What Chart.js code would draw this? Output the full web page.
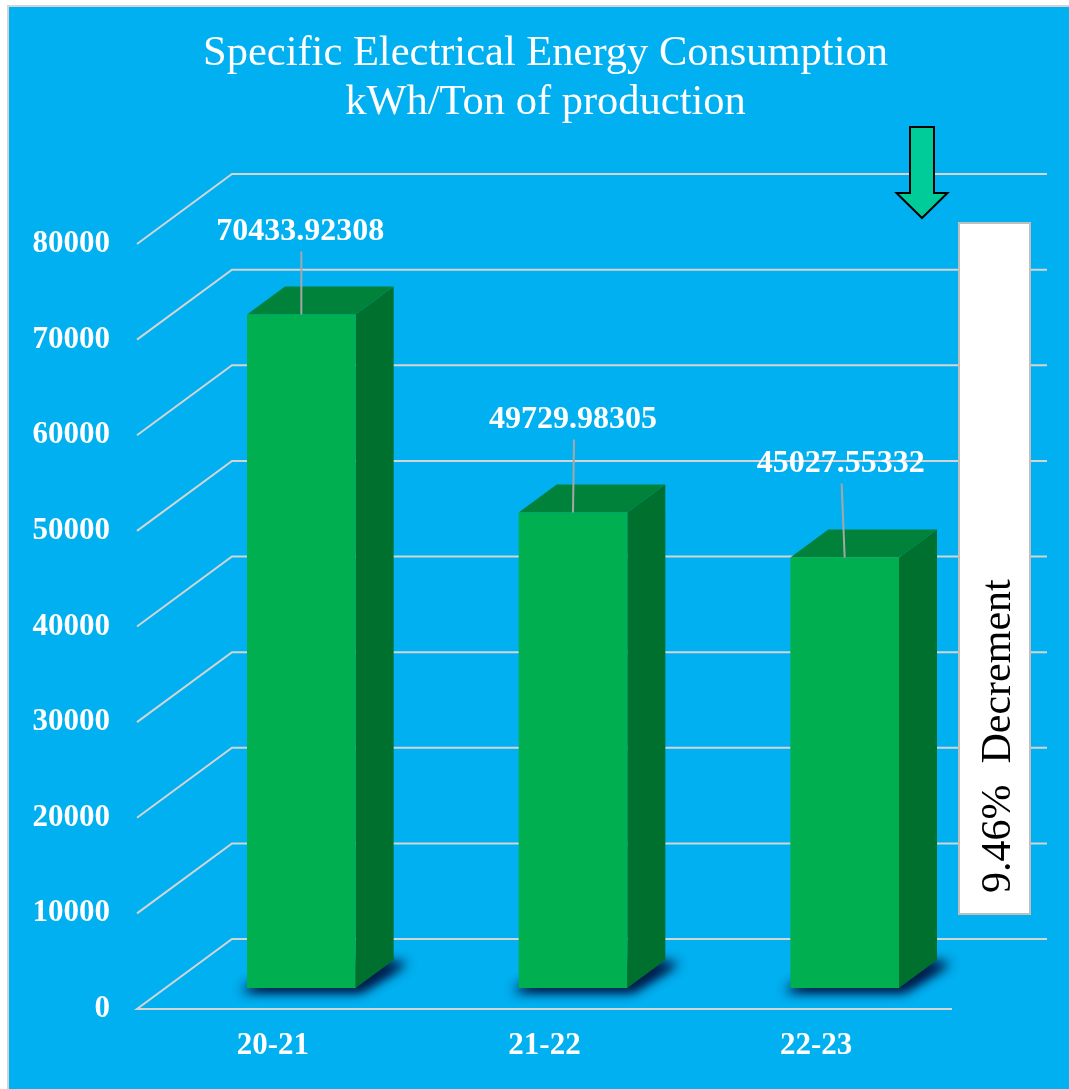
<!DOCTYPE html>
<html>
<head>
<meta charset="utf-8">
<script src="https://cdn.jsdelivr.net/npm/chart.js@4/dist/chart.umd.min.js"></script>
<style>
  html,body{margin:0;padding:0;background:#ffffff;}
  #wrap{position:absolute;left:7px;top:5px;border-left:2px solid #d4d4d4;border-top:2px solid #d4d4d4;width:1060px;height:1082px;}
  canvas{display:block;}
</style>
</head>
<body>
<div id="wrap"><canvas id="c" width="1060" height="1082"></canvas></div>
<script>
// ---- data ----
const categories = ['20-21', '21-22', '22-23'];
const consumption = [70433.92308, 49729.98305, 45027.55332];
const yMin = 0, yMax = 80000, yStep = 10000;
const titleLines = ['Specific Electrical Energy Consumption', 'kWh/Ton of production'];
const noteText = '9.46%  Decrement';

const SERIF = '"Liberation Serif", "Times New Roman", serif';

const bar3d = {
  id: 'bar3d',
  beforeDraw(chart, args, o) {
    const ctx = chart.ctx;
    ctx.save();
    ctx.fillStyle = o.background;
    ctx.fillRect(0, 0, chart.width, chart.height);
    ctx.restore();
  },
  beforeDatasetsDraw(chart, args, o) {
    const ctx = chart.ctx, y = chart.scales.y, a = chart.chartArea;
    const [dx, dy] = o.depth;
    ctx.save();
    ctx.strokeStyle = o.gridColor;
    ctx.lineWidth = 2;
    ctx.lineJoin = 'miter';
    y.ticks.forEach(t => {
      const py = y.getPixelForValue(t.value);
      ctx.beginPath();
      if (t.value === yMin) {
        ctx.moveTo(a.right, py);
        ctx.lineTo(a.left, py);
      } else {
        ctx.moveTo(a.left, py);
      }
      ctx.lineTo(a.left + dx, py + dy);
      ctx.lineTo(a.right + dx, py + dy);
      ctx.stroke();
    });
    ctx.restore();
  },
  afterDatasetsDraw(chart, args, o) {
    const ctx = chart.ctx, y = chart.scales.y;
    const [dx, dy] = o.depth;
    const f1 = o.front, f2 = o.back;
    const ddx = (f2 - f1) * dx, ddy = (f2 - f1) * dy;
    const meta = chart.getDatasetMeta(0);
    const boxes = meta.data.map((el, i) => {
      const p = el.getProps(['x', 'width'], true);
      const yt = y.getPixelForValue(consumption[i]) + f1 * dy;
      const yb = y.getPixelForValue(yMin) + f1 * dy;
      const x0 = p.x - p.width / 2 + f1 * dx, x1 = p.x + p.width / 2 + f1 * dx;
      return {x0, x1, yt, yb, cx: (x0 + x1) / 2};
    });
    // soft shadows (only the blurred shadow is visible; shape drawn off-canvas)
    const OFF = 3000;
    boxes.forEach(b => {
      for (let k = 0; k < 2; k++) {
        ctx.save();
        ctx.shadowColor = o.shadowColor;
        ctx.shadowBlur = 12;
        ctx.shadowOffsetX = OFF + 5;
        ctx.shadowOffsetY = 3;
        ctx.fillStyle = '#000';
        ctx.beginPath();
        ctx.moveTo(b.x0 - 10 - OFF, b.yb);
        ctx.lineTo(b.x1 - OFF, b.yb);
        ctx.lineTo(b.x1 + ddx + 8 - OFF, b.yb + ddy);
        ctx.lineTo(b.x0 + ddx - OFF, b.yb + ddy);
        ctx.closePath();
        ctx.fill();
        ctx.restore();
      }
    });
    // bars
    boxes.forEach(b => {
      ctx.save();
      // side
      ctx.fillStyle = o.sideColor;
      ctx.beginPath();
      ctx.moveTo(b.x1, b.yt);
      ctx.lineTo(b.x1 + ddx, b.yt + ddy);
      ctx.lineTo(b.x1 + ddx, b.yb + ddy);
      ctx.lineTo(b.x1, b.yb);
      ctx.closePath();
      ctx.fill();
      // top
      ctx.fillStyle = o.topColor;
      ctx.beginPath();
      ctx.moveTo(b.x0, b.yt);
      ctx.lineTo(b.x1, b.yt);
      ctx.lineTo(b.x1 + ddx, b.yt + ddy);
      ctx.lineTo(b.x0 + ddx, b.yt + ddy);
      ctx.closePath();
      ctx.fill();
      // front
      ctx.fillStyle = o.frontColor;
      ctx.fillRect(b.x0, b.yt, b.x1 - b.x0, b.yb - b.yt);
      ctx.restore();
    });
    // data labels with leader lines
    boxes.forEach((b, i) => {
      const [lx, ly] = o.labelOffsets[i];
      const tx = b.cx + lx, ty = b.yt + ly;
      ctx.save();
      ctx.strokeStyle = o.leaderColor;
      ctx.lineWidth = 2;
      ctx.beginPath();
      ctx.moveTo(tx + 1, ty + 11);
      ctx.lineTo(b.cx, b.yt);
      ctx.stroke();
      ctx.fillStyle = '#ffffff';
      ctx.font = 'bold 32px ' + SERIF;
      ctx.textAlign = 'center';
      ctx.textBaseline = 'alphabetic';
      ctx.fillText(String(consumption[i]), tx, ty);
      ctx.restore();
    });
    // down arrow
    ctx.save();
    const ar = o.arrow;
    ctx.fillStyle = '#00CC99';
    ctx.strokeStyle = '#000000';
    ctx.lineWidth = 2;
    ctx.lineJoin = 'miter';
    ctx.beginPath();
    ctx.moveTo(ar.x - ar.shaft / 2, ar.top);
    ctx.lineTo(ar.x + ar.shaft / 2, ar.top);
    ctx.lineTo(ar.x + ar.shaft / 2, ar.neck);
    ctx.lineTo(ar.x + ar.head / 2, ar.neck);
    ctx.lineTo(ar.x, ar.tip);
    ctx.lineTo(ar.x - ar.head / 2, ar.neck);
    ctx.lineTo(ar.x - ar.shaft / 2, ar.neck);
    ctx.closePath();
    ctx.fill();
    ctx.stroke();
    ctx.restore();
    // note box
    const nb = o.note;
    ctx.save();
    ctx.fillStyle = '#ffffff';
    ctx.fillRect(nb.x, nb.y, nb.w, nb.h);
    ctx.strokeStyle = '#bfbfbf';
    ctx.lineWidth = 2;
    ctx.strokeRect(nb.x, nb.y, nb.w, nb.h);
    ctx.translate(nb.textX, nb.textY);
    ctx.rotate(-Math.PI / 2);
    ctx.fillStyle = '#000000';
    ctx.font = '42px ' + SERIF;
    ctx.textAlign = 'left';
    ctx.textBaseline = 'alphabetic';
    ctx.fillText(noteText, 0, 0);
    ctx.restore();
  }
};

new Chart(document.getElementById('c'), {
  type: 'bar',
  data: {
    labels: categories,
    datasets: [{
      label: 'kWh/Ton',
      data: consumption,
      backgroundColor: 'rgba(0,0,0,0)',
      borderWidth: 0,
      barPercentage: 0.4,
      categoryPercentage: 1.0
    }]
  },
  options: {
    responsive: false,
    animation: false,
    layout: {padding: {left: 13, right: 0, top: 0, bottom: 0}},
    plugins: {
      legend: {display: false},
      tooltip: {enabled: false},
      title: {
        display: true,
        text: titleLines,
        color: '#ffffff',
        font: {family: SERIF, size: 42.5, weight: 'normal', lineHeight: 1.16},
        padding: {top: 22, bottom: 116.4}
      },
      bar3d: {
        background: '#00B0F0',
        gridColor: '#d4d4d4',
        depth: [95, -70],
        front: 0.3,
        back: 0.7,
        frontColor: '#00B050',
        topColor: '#00823A',
        sideColor: '#00702F',
        shadowColor: 'rgba(0,30,75,1)',
        leaderColor: '#a6a6a6',
        labelOffsets: [[-1, -74], [0, -84], [-4, -85]],
        arrow: {x: 913, top: 120, neck: 186, tip: 211, shaft: 24, head: 51},
        note: {x: 950, y: 216, w: 71, h: 691, textX: 1001, textY: 886}
      }
    },
    scales: {
      x: {
        grid: {display: false, drawTicks: false},
        border: {display: false},
        ticks: {color: '#ffffff', font: {family: SERIF, size: 31, weight: 'bold'}, padding: 18},
        afterFit(s) { s.height = 80; }
      },
      y: {
        min: yMin, max: yMax,
        grid: {display: false, drawTicks: false},
        border: {display: false},
        ticks: {stepSize: yStep, color: '#ffffff', font: {family: SERIF, size: 31, weight: 'bold'}, padding: 27,
                callback: v => String(v)},
        afterFit(s) { s.width = 115; }
      },
      yR: {
        position: 'right',
        display: true,
        grid: {display: false, drawTicks: false},
        border: {display: false},
        ticks: {display: false},
        afterFit(s) { s.width = 117; }
      }
    }
  },
  plugins: [bar3d]
});
</script>
</body>
</html>
